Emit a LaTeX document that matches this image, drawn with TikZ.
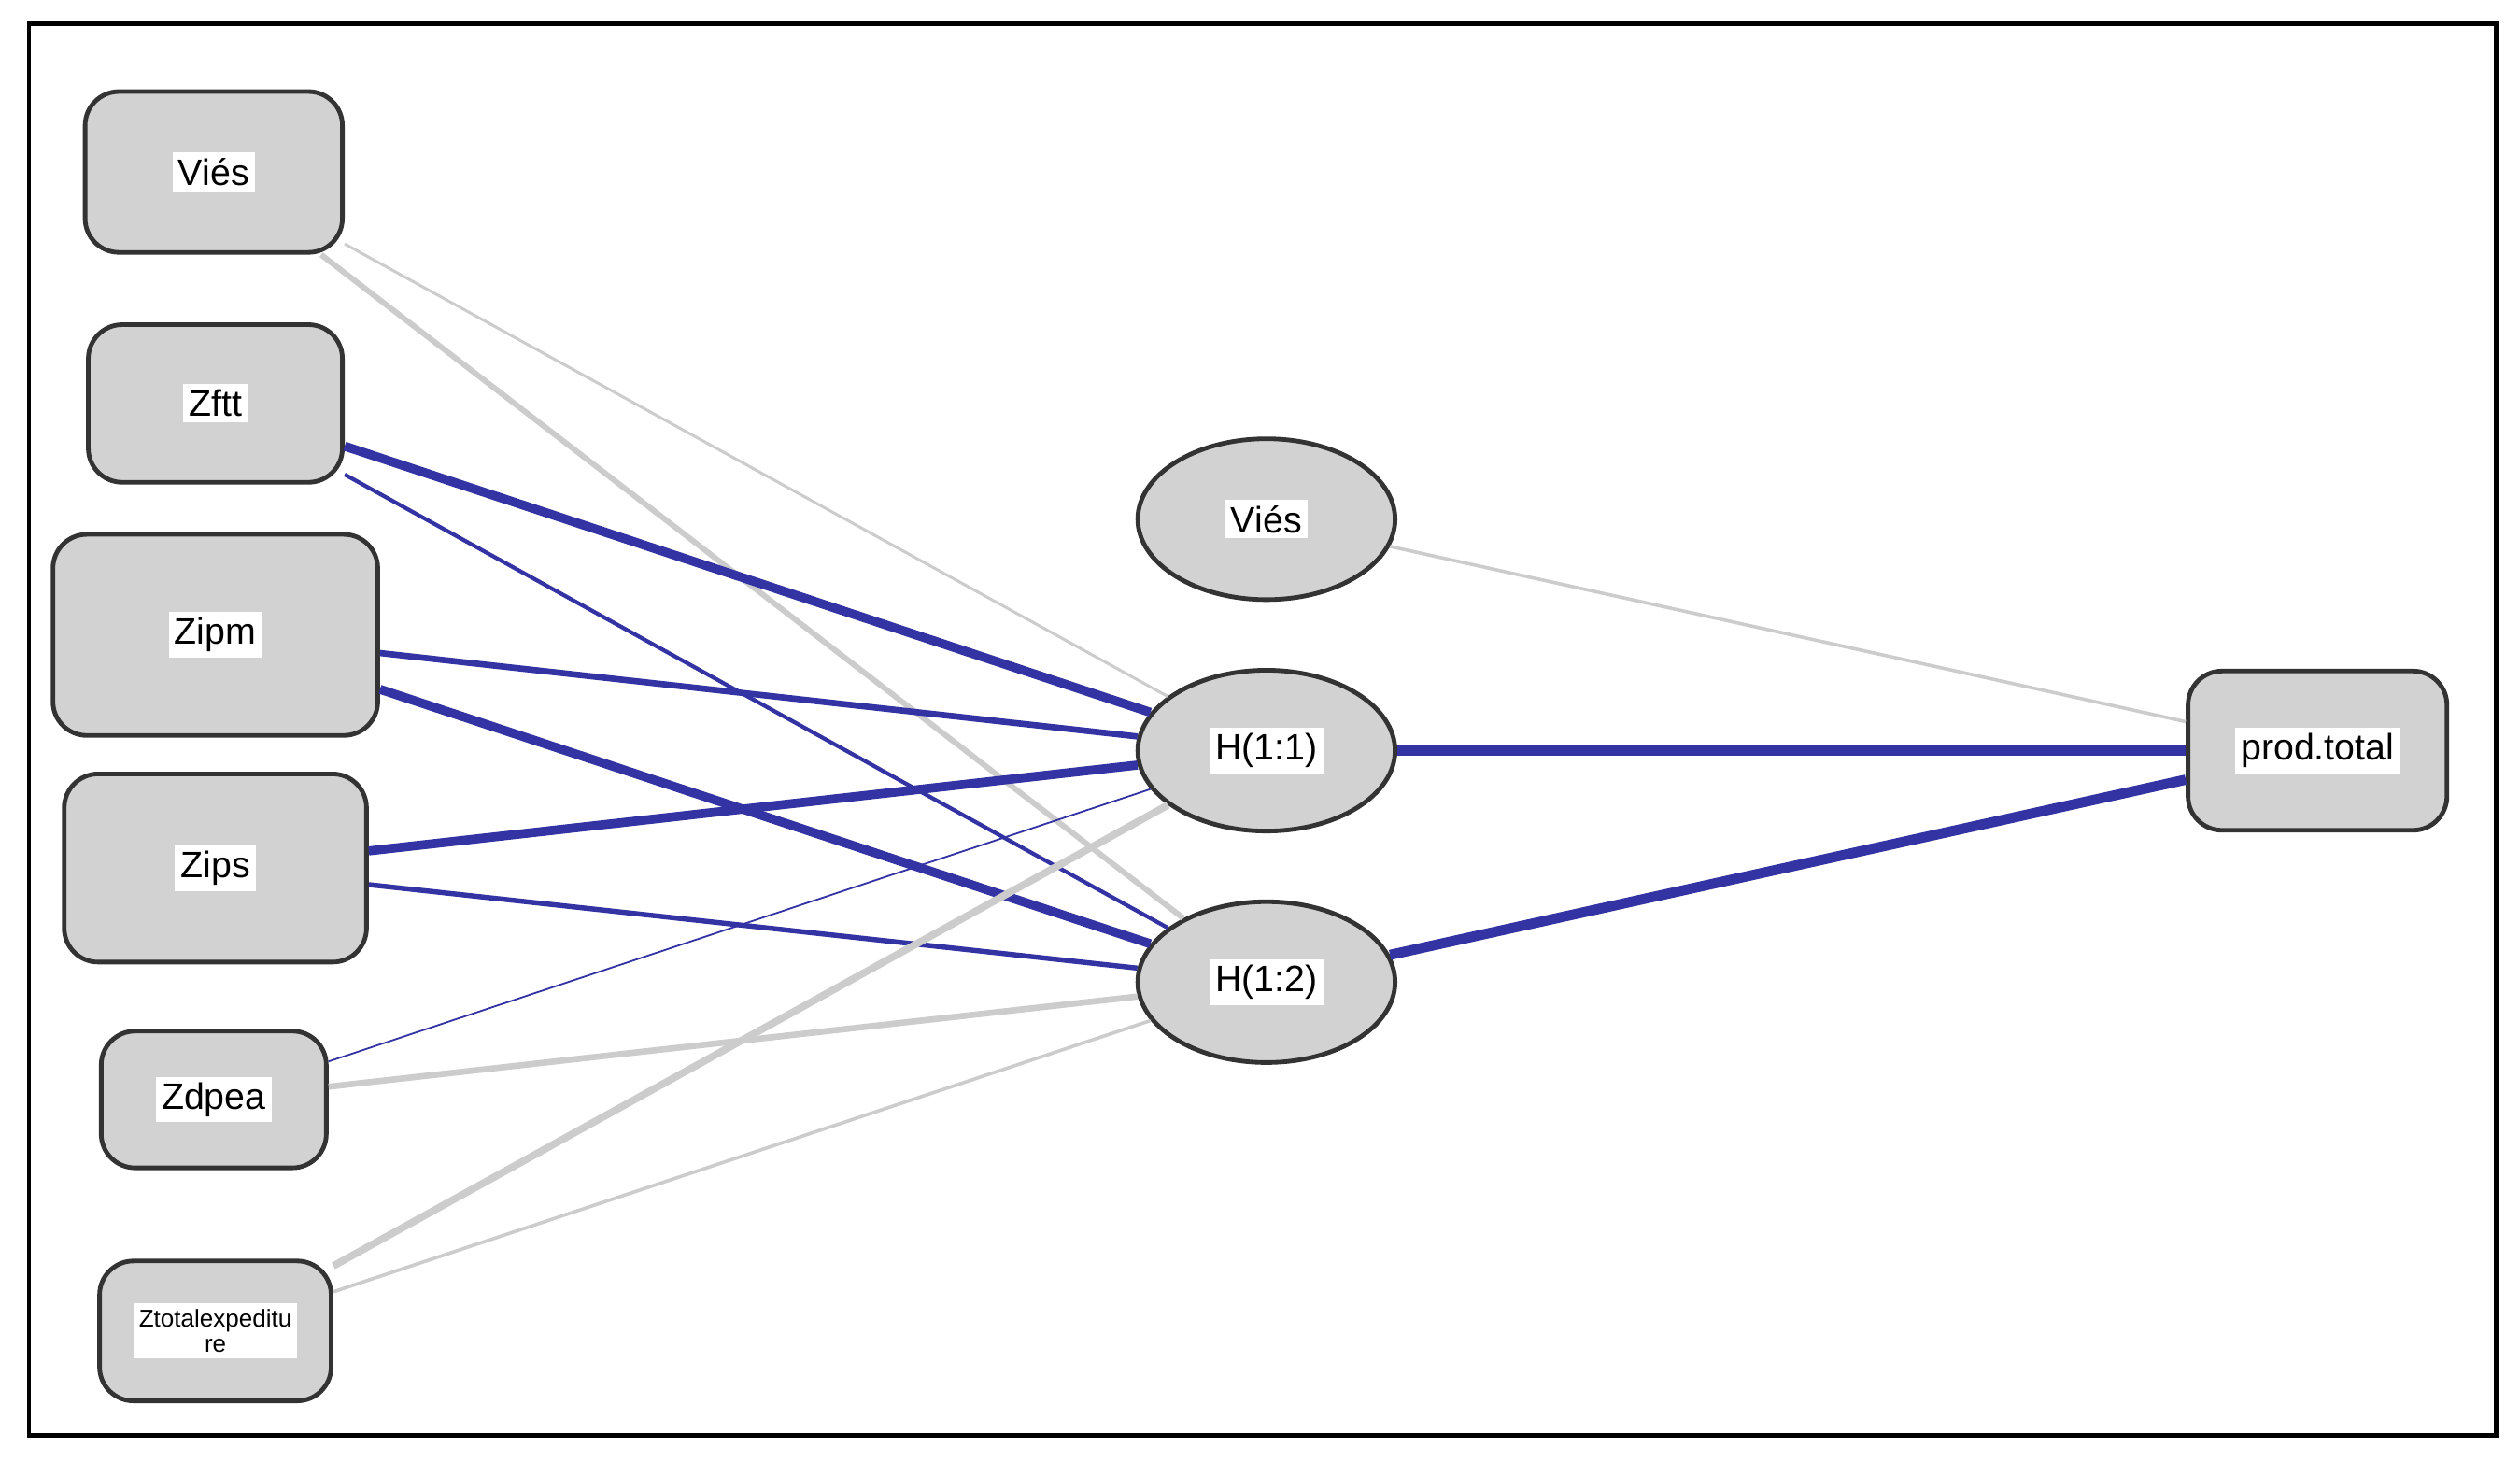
\documentclass[tikz,border=0pt]{standalone}
\usepackage{fontspec}
\setmainfont{Liberation Sans}
\usetikzlibrary{shapes.geometric}
\begin{document}
\begin{tikzpicture}[x=0.01cm,y=-0.01cm]
    % styles
    \tikzset{
        box/.style={rectangle, rounded corners=6pt, draw=black!80, thick, fill=gray!35},
        unit/.style={ellipse, draw=black!80, thick, fill=gray!35, minimum width=1.6cm, minimum height=1cm},
        lab/.style={fill=white, inner sep=1pt, font=\fontsize{6.5}{7}\selectfont},
        wgray/.style={draw=gray!40},
        wblue/.style={draw=blue!55!black!80},
    }
    \useasboundingbox (0,0) rectangle (1568,909);
    \draw[thick] (18,15) rectangle (1553,893);

    % input layer
    \node[box, minimum width=1.60cm, minimum height=1.00cm, label={[lab]center:Viés}] (vies) at (133,107) {};
    \node[box, minimum width=1.58cm, minimum height=0.98cm, label={[lab]center:Zftt}] (zftt) at (134,251) {};
    \node[box, minimum width=2.02cm, minimum height=1.25cm, label={[lab]center:Zipm}] (zipm) at (134,395) {};
    \node[box, minimum width=1.88cm, minimum height=1.17cm, label={[lab]center:Zips}] (zips) at (134,540) {};
    \node[box, minimum width=1.40cm, minimum height=0.85cm, label={[lab]center:Zdpea}] (zdpea) at (133,684) {};
    \node[box, minimum width=1.44cm, minimum height=0.87cm, label={[lab, font=\fontsize{4.3}{4.6}\selectfont, align=center]center:Ztotalexpeditu\\re}] (ztot) at (134,828) {};

    % hidden layer
    \node[unit, label={[lab]center:Viés}] (bias) at (788,323) {};
    \node[unit, label={[lab]center:H(1:1)}] (h1) at (788,467) {};
    \node[unit, label={[lab]center:H(1:2)}] (h2) at (788,611) {};

    % output layer
    \node[box, minimum width=1.61cm, minimum height=0.99cm, label={[lab]center:prod.total}] (prod) at (1442,467) {};

    % weights
    \begin{scope}[on background layer/.style={}]
    \draw[wgray, line width=0.5pt] (vies) -- (h1);
    \draw[wgray, line width=1pt] (vies) -- (h2);
    \draw[wblue, line width=1.6pt] (zftt) -- (h1);
    \draw[wblue, line width=0.7pt] (zftt) -- (h2);
    \draw[wblue, line width=1.1pt] (zipm) -- (h1);
    \draw[wblue, line width=1.6pt] (zipm) -- (h2);
    \draw[wblue, line width=1.6pt] (zips) -- (h1);
    \draw[wblue, line width=0.9pt] (zips) -- (h2);
    \draw[wblue, line width=0.3pt] (zdpea) -- (h1);
    \draw[wgray, line width=1.1pt] (zdpea) -- (h2);
    \draw[wgray, line width=1.3pt] (ztot) -- (h1);
    \draw[wgray, line width=0.6pt] (ztot) -- (h2);
    \draw[wgray, line width=0.6pt] (bias) -- (prod);
    \draw[wblue, line width=1.8pt] (h1) -- (prod);
    \draw[wblue, line width=1.8pt] (h2) -- (prod);
    \end{scope}
\end{tikzpicture}
\end{document}
